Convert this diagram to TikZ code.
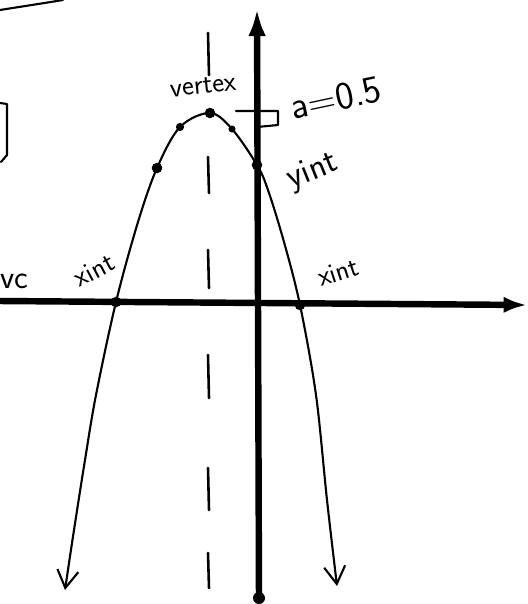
\documentclass[tikz,border=0pt]{standalone}
\usetikzlibrary{arrows.meta}

\begin{document}
\begin{tikzpicture}[
  x=0.03cm, y=-0.03cm,
  axis/.style={line width=5.5pt},
  curve/.style={line width=1.8pt, line cap=round, line join=round},
  hand/.style={font=\sffamily\fontsize{24}{24}\selectfont, inner sep=0pt},
  dot/.style={circle, fill, inner sep=0pt, minimum size=9pt},
  symline/.style={line width=2.2pt, line cap=round},
  barb/.tip={Straight Barb[length=15pt, width=18pt, line width=1.8pt]}
]
\useasboundingbox (0,0) rectangle (528,604);

% axes
\coordinate (ytop) at (257,8);
\coordinate (ybot) at (259,598);
\coordinate (xleft) at (0,301);
\coordinate (xright) at (527,305);
\draw[axis, -{Latex[length=24pt, width=15pt]}] (ybot) -- (ytop);
\draw[axis, -{Latex[length=20pt, width=14pt]}] (xleft) -- (xright);
\fill (ybot) circle (6);

% axis of symmetry
\foreach \ya/\yb in {33/75, 157/193, 250/288, 355/398, 468/510, 553/588}
  \draw[symline] (208,\ya) -- (209,\yb);

% points on the curve
\node[dot] (vertex) at (210,113) {};
\node[dot, minimum size=7pt] (p1) at (180,127) {};
\node[dot, minimum size=6pt] (p2) at (232,129) {};
\node[dot] (p3) at (157,168) {};
\node[dot] (yint) at (257,165) {};
\node[dot] (xint1) at (116,302) {};
\node[dot] (xint2) at (300,305) {};
\coordinate (lend) at (65,590);
\coordinate (rend) at (337,586);

% parabola
\draw[curve, {barb}-{barb}] plot[smooth, tension=0.55] coordinates {
  (lend) (74,530) (85,460) (96,395) (xint1) (138,222) (p3) (p1) (vertex)
  (p2) (yint) (268,190) (284,242) (xint2) (316,395) (327,500) (rend)};

% a = 0.5 mark
\draw[curve] (236,111) -- (278,111) -- (278,125) -- (257,127);

% labels
\node[hand, rotate=6] (lvertex) at (203,86) {vertex};
\node[hand, font=\sffamily\fontsize{33}{33}\selectfont, rotate=12] (la) at (336,98) {a=0.5};
\node[hand, font=\sffamily\fontsize{30}{30}\selectfont, rotate=22] (lyint) at (313,172) {yint};
\node[hand, rotate=28] (lxint1) at (94,270) {xint};
\node[hand, rotate=18] (lxint2) at (338,272) {xint};
\node[hand, font=\sffamily\fontsize{28}{28}\selectfont] (lvc) at (14,281) {vc};

% pieces at the edges
\draw[curve] (0,10) .. controls (25,6) and (45,3) .. (63,0);
\draw[curve] (0,103) -- (7,104) -- (7,155) -- (1,162);
\end{tikzpicture}
\end{document}
